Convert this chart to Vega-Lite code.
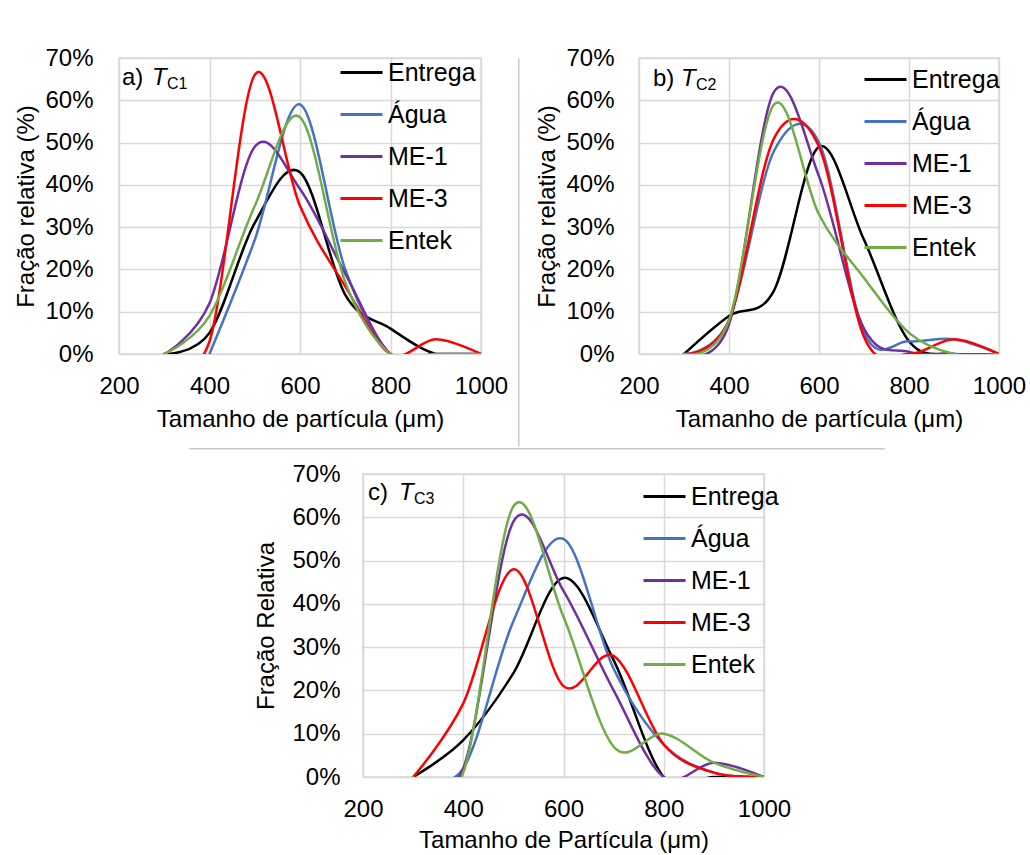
{
  "$schema": "https://vega.github.io/schema/vega-lite/v6.json",
  "background": "white",
  "padding": {"left": 14, "top": 45, "right": 0, "bottom": 0},
  "datasets": {
    "d": [
      {"p":"a","s":"Entrega","x":300,"y":0},{"p":"a","s":"Entrega","x":400,"y":5},{"p":"a","s":"Entrega","x":500,"y":31},{"p":"a","s":"Entrega","x":600,"y":43},{"p":"a","s":"Entrega","x":700,"y":14},{"p":"a","s":"Entrega","x":800,"y":6},{"p":"a","s":"Entrega","x":900,"y":0},{"p":"a","s":"Entrega","x":1000,"y":0},
      {"p":"a","s":"Água","x":400,"y":0},{"p":"a","s":"Água","x":500,"y":27},{"p":"a","s":"Água","x":600,"y":59},{"p":"a","s":"Água","x":700,"y":20},{"p":"a","s":"Água","x":800,"y":0},{"p":"a","s":"Água","x":900,"y":0},{"p":"a","s":"Água","x":1000,"y":0},
      {"p":"a","s":"ME-1","x":300,"y":0},{"p":"a","s":"ME-1","x":400,"y":12},{"p":"a","s":"ME-1","x":500,"y":49},{"p":"a","s":"ME-1","x":600,"y":39},{"p":"a","s":"ME-1","x":700,"y":19},{"p":"a","s":"ME-1","x":800,"y":0},{"p":"a","s":"ME-1","x":900,"y":0},{"p":"a","s":"ME-1","x":1000,"y":0},
      {"p":"a","s":"ME-3","x":300,"y":0},{"p":"a","s":"ME-3","x":400,"y":3},{"p":"a","s":"ME-3","x":500,"y":66},{"p":"a","s":"ME-3","x":600,"y":35},{"p":"a","s":"ME-3","x":700,"y":16},{"p":"a","s":"ME-3","x":800,"y":0},{"p":"a","s":"ME-3","x":900,"y":3.5},{"p":"a","s":"ME-3","x":1000,"y":0},
      {"p":"a","s":"Entek","x":300,"y":0},{"p":"a","s":"Entek","x":400,"y":9},{"p":"a","s":"Entek","x":500,"y":35},{"p":"a","s":"Entek","x":600,"y":56},{"p":"a","s":"Entek","x":700,"y":17},{"p":"a","s":"Entek","x":800,"y":0},{"p":"a","s":"Entek","x":900,"y":0},{"p":"a","s":"Entek","x":1000,"y":0},

      {"p":"b","s":"Entrega","x":300,"y":0},{"p":"b","s":"Entrega","x":400,"y":9},{"p":"b","s":"Entrega","x":500,"y":15},{"p":"b","s":"Entrega","x":600,"y":49},{"p":"b","s":"Entrega","x":700,"y":27},{"p":"b","s":"Entrega","x":800,"y":3},{"p":"b","s":"Entrega","x":900,"y":0},{"p":"b","s":"Entrega","x":1000,"y":0},
      {"p":"b","s":"Água","x":300,"y":0},{"p":"b","s":"Água","x":400,"y":8},{"p":"b","s":"Água","x":500,"y":48},{"p":"b","s":"Água","x":600,"y":50},{"p":"b","s":"Água","x":700,"y":5},{"p":"b","s":"Água","x":800,"y":3},{"p":"b","s":"Água","x":900,"y":3.5},{"p":"b","s":"Água","x":1000,"y":0},
      {"p":"b","s":"ME-1","x":300,"y":0},{"p":"b","s":"ME-1","x":400,"y":7},{"p":"b","s":"ME-1","x":500,"y":62},{"p":"b","s":"ME-1","x":600,"y":42},{"p":"b","s":"ME-1","x":700,"y":6},{"p":"b","s":"ME-1","x":800,"y":0.5},{"p":"b","s":"ME-1","x":900,"y":0},{"p":"b","s":"ME-1","x":1000,"y":0},
      {"p":"b","s":"ME-3","x":300,"y":0},{"p":"b","s":"ME-3","x":400,"y":8},{"p":"b","s":"ME-3","x":500,"y":51},{"p":"b","s":"ME-3","x":600,"y":49},{"p":"b","s":"ME-3","x":700,"y":4},{"p":"b","s":"ME-3","x":800,"y":0},{"p":"b","s":"ME-3","x":900,"y":3.5},{"p":"b","s":"ME-3","x":1000,"y":0},
      {"p":"b","s":"Entek","x":300,"y":0},{"p":"b","s":"Entek","x":400,"y":8},{"p":"b","s":"Entek","x":500,"y":59},{"p":"b","s":"Entek","x":600,"y":33},{"p":"b","s":"Entek","x":700,"y":18},{"p":"b","s":"Entek","x":800,"y":5},{"p":"b","s":"Entek","x":900,"y":0},{"p":"b","s":"Entek","x":1000,"y":0},

      {"p":"c","s":"Entrega","x":300,"y":0},{"p":"c","s":"Entrega","x":400,"y":8.5},{"p":"c","s":"Entrega","x":500,"y":24},{"p":"c","s":"Entrega","x":600,"y":46},{"p":"c","s":"Entrega","x":700,"y":27},{"p":"c","s":"Entrega","x":800,"y":0},{"p":"c","s":"Entrega","x":900,"y":0},{"p":"c","s":"Entrega","x":1000,"y":0},
      {"p":"c","s":"Água","x":300,"y":0},{"p":"c","s":"Água","x":400,"y":2},{"p":"c","s":"Água","x":500,"y":36},{"p":"c","s":"Água","x":600,"y":55},{"p":"c","s":"Água","x":700,"y":25},{"p":"c","s":"Água","x":800,"y":7.5},{"p":"c","s":"Água","x":900,"y":1},{"p":"c","s":"Água","x":1000,"y":0},
      {"p":"c","s":"ME-1","x":300,"y":0},{"p":"c","s":"ME-1","x":400,"y":2},{"p":"c","s":"ME-1","x":500,"y":59},{"p":"c","s":"ME-1","x":600,"y":43},{"p":"c","s":"ME-1","x":700,"y":20},{"p":"c","s":"ME-1","x":800,"y":0},{"p":"c","s":"ME-1","x":900,"y":3.3},{"p":"c","s":"ME-1","x":1000,"y":0},
      {"p":"c","s":"ME-3","x":300,"y":0},{"p":"c","s":"ME-3","x":400,"y":17},{"p":"c","s":"ME-3","x":500,"y":48},{"p":"c","s":"ME-3","x":600,"y":21},{"p":"c","s":"ME-3","x":700,"y":28},{"p":"c","s":"ME-3","x":800,"y":7.5},{"p":"c","s":"ME-3","x":900,"y":1},{"p":"c","s":"ME-3","x":1000,"y":0},
      {"p":"c","s":"Entek","x":300,"y":0},{"p":"c","s":"Entek","x":400,"y":1},{"p":"c","s":"Entek","x":500,"y":62.5},{"p":"c","s":"Entek","x":600,"y":37},{"p":"c","s":"Entek","x":700,"y":7},{"p":"c","s":"Entek","x":800,"y":10},{"p":"c","s":"Entek","x":900,"y":3.3},{"p":"c","s":"Entek","x":1000,"y":0}
    ]
  },
  "vconcat": [
    {
      "hconcat": [
        {
          "width": 362, "height": 296,
          "encoding": {
            "x": {"field": "x", "type": "quantitative", "scale": {"domain": [200, 1000], "nice": false, "zero": false},
                  "axis": {"values": [200, 400, 600, 800, 1000], "format": "d", "labelFlush": false, "title": "Tamanho de partícula (μm)", "labelPadding": 20, "titlePadding": 9}},
            "y": {"field": "y", "type": "quantitative", "scale": {"domain": [0, 70], "nice": false},
                  "axis": {"values": [0, 10, 20, 30, 40, 50, 60, 70], "labelExpr": "datum.value + '%'", "title": "Fração relativa  (%)", "labelPadding": 26, "titlePadding": 6}}
          },
          "layer": [
            {"data": {"name": "d"}, "transform": [{"filter": "datum.p == 'a'"}],
             "mark": {"type": "line", "interpolate": "cardinal", "strokeWidth": 2.5, "clip": true},
             "encoding": {"color": {"field": "s", "type": "nominal",
               "scale": {"domain": ["Entrega", "Água", "ME-1", "ME-3", "Entek"], "range": ["#000000", "#4472C4", "#7030A0", "#FF0000", "#70AD47"]},
               "legend": {"orient": "none", "legendX": 220, "legendY": -8, "title": null}}}},
            {"data": {"values": [{"x": 200, "y": 70, "t": "a)"}]}, "mark": {"type": "text", "align": "left", "baseline": "alphabetic", "dx": 3, "dy": 27, "fontSize": 24}, "encoding": {"text": {"field": "t"}}},
            {"data": {"values": [{"x": 200, "y": 70, "t": "T"}]}, "mark": {"type": "text", "align": "left", "baseline": "alphabetic", "dx": 33, "dy": 27, "fontSize": 24, "fontStyle": "italic"}, "encoding": {"text": {"field": "t"}}},
            {"data": {"values": [{"x": 200, "y": 70, "t": "C1"}]}, "mark": {"type": "text", "align": "left", "baseline": "alphabetic", "dx": 48, "dy": 31, "fontSize": 16}, "encoding": {"text": {"field": "t"}}}
          ]
        },
        {"width": 0.5, "height": 388, "data": {"values": []}, "mark": {"type": "point", "opacity": 0}, "view": {"stroke": "#c8c8c8", "strokeWidth": 1}},
        {"width": 46, "height": 1, "data": {"values": []}, "mark": {"type": "point", "opacity": 0}, "view": {"stroke": null}},
        {
          "width": 360, "height": 296,
          "encoding": {
            "x": {"field": "x", "type": "quantitative", "scale": {"domain": [200, 1000], "nice": false, "zero": false},
                  "axis": {"values": [200, 400, 600, 800, 1000], "format": "d", "labelFlush": false, "title": "Tamanho de partícula (μm)", "labelPadding": 20, "titlePadding": 9}},
            "y": {"field": "y", "type": "quantitative", "scale": {"domain": [0, 70], "nice": false},
                  "axis": {"values": [0, 10, 20, 30, 40, 50, 60, 70], "labelExpr": "datum.value + '%'", "title": "Fração relativa (%)", "labelPadding": 25, "titlePadding": 6}}
          },
          "layer": [
            {"data": {"name": "d"}, "transform": [{"filter": "datum.p == 'b'"}],
             "mark": {"type": "line", "interpolate": "cardinal", "strokeWidth": 2.5, "clip": true},
             "encoding": {"color": {"field": "s", "type": "nominal",
               "scale": {"domain": ["Entrega", "Água", "ME-1", "ME-3", "Entek"], "range": ["#000000", "#4472C4", "#7030A0", "#FF0000", "#70AD47"]},
               "legend": {"orient": "none", "legendX": 224, "legendY": -1, "title": null}}}},
            {"data": {"values": [{"x": 200, "y": 70, "t": "b)"}]}, "mark": {"type": "text", "align": "left", "baseline": "alphabetic", "dx": 14, "dy": 28, "fontSize": 24}, "encoding": {"text": {"field": "t"}}},
            {"data": {"values": [{"x": 200, "y": 70, "t": "T"}]}, "mark": {"type": "text", "align": "left", "baseline": "alphabetic", "dx": 42, "dy": 28, "fontSize": 24, "fontStyle": "italic"}, "encoding": {"text": {"field": "t"}}},
            {"data": {"values": [{"x": 200, "y": 70, "t": "C2"}]}, "mark": {"type": "text", "align": "left", "baseline": "alphabetic", "dx": 57, "dy": 32, "fontSize": 16}, "encoding": {"text": {"field": "t"}}}
          ]
        }
      ],
      "spacing": 37,
      "bounds": "flush",
      "resolve": {"scale": {"color": "independent", "x": "independent", "y": "independent"}, "legend": {"color": "independent"}}
    },
    {
      "hconcat": [
        {"width": 70, "height": 13, "data": {"values": []}, "mark": {"type": "point", "opacity": 0}, "view": {"stroke": null}},
        {"width": 695, "height": 0.5, "data": {"values": []}, "mark": {"type": "point", "opacity": 0}, "view": {"stroke": "#c8c8c8", "strokeWidth": 1}}
      ],
      "spacing": 0,
      "bounds": "flush"
    },
    {
      "hconcat": [
        {"width": 135, "height": 10, "data": {"values": []}, "mark": {"type": "point", "opacity": 0}, "view": {"stroke": null}},
        {
          "width": 401, "height": 303,
          "encoding": {
            "x": {"field": "x", "type": "quantitative", "scale": {"domain": [200, 1000], "nice": false, "zero": false},
                  "axis": {"values": [200, 400, 600, 800, 1000], "format": "d", "labelFlush": false, "title": "Tamanho de Partícula (μm)", "labelPadding": 20, "titlePadding": 7}},
            "y": {"field": "y", "type": "quantitative", "scale": {"domain": [0, 70], "nice": false},
                  "axis": {"values": [0, 10, 20, 30, 40, 50, 60, 70], "labelExpr": "datum.value + '%'", "title": "Fração Relativa", "labelPadding": 23, "titlePadding": 13}}
          },
          "layer": [
            {"data": {"name": "d"}, "transform": [{"filter": "datum.p == 'c'"}],
             "mark": {"type": "line", "interpolate": "cardinal", "strokeWidth": 2.5, "clip": true},
             "encoding": {"color": {"field": "s", "type": "nominal",
               "scale": {"domain": ["Entrega", "Água", "ME-1", "ME-3", "Entek"], "range": ["#000000", "#4472C4", "#7030A0", "#FF0000", "#70AD47"]},
               "legend": {"orient": "none", "legendX": 279, "legendY": 0, "title": null}}}},
            {"data": {"values": [{"x": 200, "y": 70, "t": "c)"}]}, "mark": {"type": "text", "align": "left", "baseline": "alphabetic", "dx": 5, "dy": 26, "fontSize": 24}, "encoding": {"text": {"field": "t"}}},
            {"data": {"values": [{"x": 200, "y": 70, "t": "T"}]}, "mark": {"type": "text", "align": "left", "baseline": "alphabetic", "dx": 36, "dy": 26, "fontSize": 24, "fontStyle": "italic"}, "encoding": {"text": {"field": "t"}}},
            {"data": {"values": [{"x": 200, "y": 70, "t": "C3"}]}, "mark": {"type": "text", "align": "left", "baseline": "alphabetic", "dx": 51, "dy": 30, "fontSize": 16}, "encoding": {"text": {"field": "t"}}}
          ]
        }
      ],
      "spacing": 0,
      "resolve": {"scale": {"color": "independent", "x": "independent", "y": "independent"}, "legend": {"color": "independent"}}
    }
  ],
  "spacing": 0,
  "resolve": {"scale": {"color": "independent", "x": "independent", "y": "independent"}, "legend": {"color": "independent"}},
  "config": {
    "view": {"stroke": "#d9d9d9", "strokeWidth": 1.5},
    "axis": {"domain": false, "ticks": false, "grid": true, "gridColor": "#d9d9d9", "gridWidth": 1.5,
             "labelFont": "Liberation Sans", "labelFontSize": 24, "labelColor": "#000000",
             "titleFont": "Liberation Sans", "titleFontSize": 24, "titleFontWeight": "normal", "titleColor": "#000000"},
    "legend": {"symbolType": "stroke", "symbolSize": 1764, "symbolStrokeWidth": 3, "labelFont": "Liberation Sans", "labelFontSize": 25, "labelColor": "#000000", "rowPadding": 6, "labelLimit": 0, "labelOffset": 4},
    "text": {"font": "Liberation Sans", "color": "#000000"},
    "line": {"strokeCap": "round"}
  }
}
